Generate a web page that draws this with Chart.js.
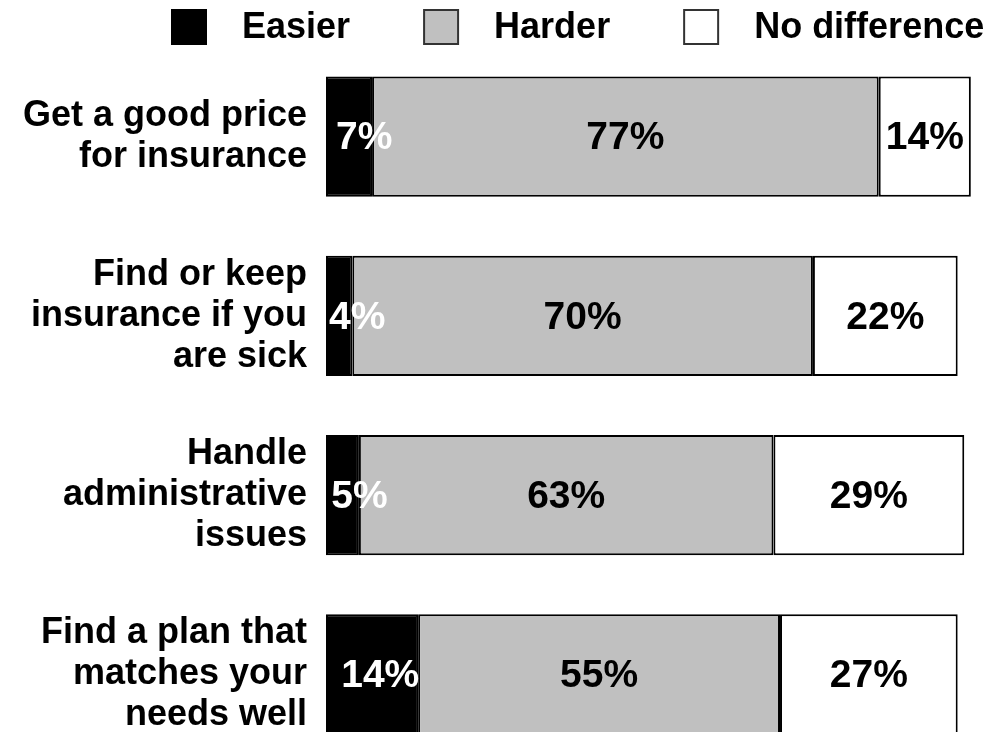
<!DOCTYPE html>
<html>
<head>
<meta charset="utf-8">
<script src="https://cdn.jsdelivr.net/npm/chart.js@4"></script>
<style>
  html, body { margin: 0; padding: 0; background: #fff; overflow: hidden; }
  #wrap { width: 989px; height: 764px; position: relative; }
</style>
</head>
<body>
<div id="wrap"><canvas id="chart"></canvas></div>
<script>
const categories = [
    ['Get a good price', 'for insurance'],
    ['Find or keep', 'insurance if you', 'are sick'],
    ['Handle', 'administrative', 'issues'],
    ['Find a plan that', 'matches your', 'needs well']
];
const easier = [7, 4, 5, 14];
const harder = [77, 70, 63, 55];
const noDifference = [14, 22, 29, 27];
const seriesNames = ['Easier', 'Harder', 'No difference'];

const FONT = '"Liberation Sans", Arial, sans-serif';

// legend drawn by hand so the box/text spacing matches
const topLegend = {
    id: 'topLegend',
    afterDraw(chart) {
        const ctx = chart.ctx;
        ctx.save();
        ctx.font = 'bold 36px ' + FONT;
        ctx.textBaseline = 'middle';
        ctx.textAlign = 'left';
        let x = 172;
        const y = 27, box = 34;
        chart.data.datasets.forEach(ds => {
            ctx.fillStyle = ds.backgroundColor;
            ctx.fillRect(x, y - box / 2, box, box);
            ctx.lineWidth = 2;
            ctx.strokeStyle = ds.backgroundColor === '#000000' ? '#000' : '#333';
            ctx.strokeRect(x, y - box / 2, box, box);
            x += box + 36;
            ctx.fillStyle = '#000';
            ctx.fillText(ds.label, x, y + 1);
            x += ctx.measureText(ds.label).width + 74;
        });
        ctx.restore();
    }
};

// percentage labels inside the segments
const barLabels = {
    id: 'barLabels',
    afterDatasetsDraw(chart) {
        const ctx = chart.ctx;
        ctx.save();
        ctx.font = 'bold 39px ' + FONT;
        ctx.textAlign = 'center';
        ctx.textBaseline = 'middle';
        chart.data.datasets.forEach((ds, i) => {
            chart.getDatasetMeta(i).data.forEach((bar, j) => {
                const w = bar.x - bar.base;
                let cx = bar.base + w / 2;
                if (i === 0) cx = bar.base + 22 + 0.35 * w;
                ctx.fillStyle = i === 0 ? '#fff' : '#000';
                ctx.fillText(ds.data[j] + '%', cx, bar.y + 2);
            });
        });
        ctx.restore();
    }
};

new Chart(document.getElementById('chart'), {
    type: 'bar',
    data: {
        labels: categories,
        datasets: [
            { label: seriesNames[0], data: easier, backgroundColor: '#000000' },
            { label: seriesNames[1], data: harder, backgroundColor: '#c0c0c0' },
            { label: seriesNames[2], data: noDifference, backgroundColor: '#ffffff' }
        ].map(d => Object.assign(d, {
            borderColor: '#000',
            borderWidth: 2,
            borderSkipped: false,
            categoryPercentage: 1,
            barPercentage: 0.672
        }))
    },
    options: {
        indexAxis: 'y',
        responsive: true,
        maintainAspectRatio: false,
        animation: false,
        layout: { padding: { top: 47, right: 5, left: 0, bottom: 0 } },
        plugins: {
            legend: { display: false },
            tooltip: { enabled: false }
        },
        scales: {
            x: {
                stacked: true,
                display: false,
                min: 0,
                max: 100
            },
            y: {
                stacked: true,
                grid: { display: false, drawTicks: false },
                border: { display: false },
                afterFit(scale) {
                    scale.width = 326;
                    scale.paddingTop = 0;
                    scale.paddingBottom = 0;
                },
                ticks: {
                    autoSkip: false,
                    padding: 19,
                    color: '#000',
                    font: { family: FONT, size: 36, weight: 'bold', lineHeight: 1.14 }
                }
            }
        }
    },
    plugins: [topLegend, barLabels]
});
</script>
</body>
</html>
